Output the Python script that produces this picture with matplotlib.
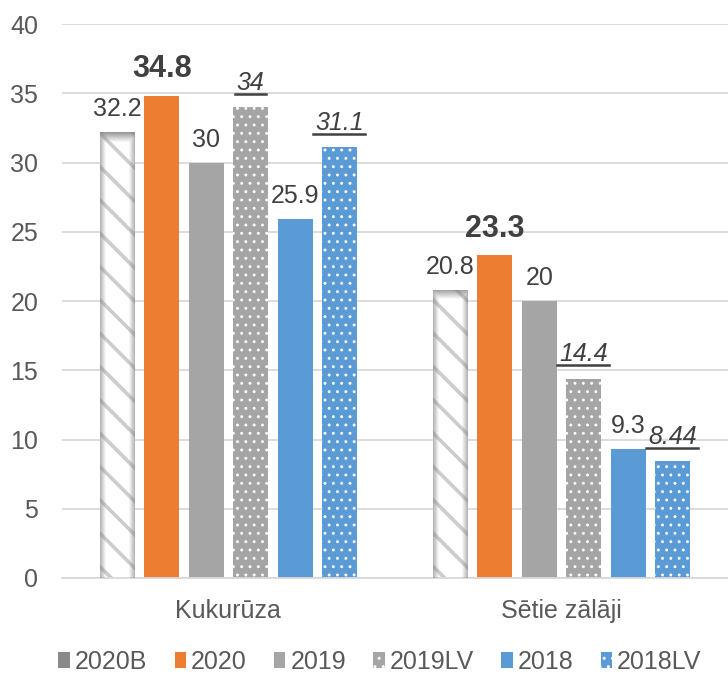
import numpy as np
import matplotlib
matplotlib.use("Agg")
import matplotlib.pyplot as plt
from matplotlib.lines import Line2D
from matplotlib.patches import Patch

categories = ["Kukurūza", "Sētie zālāji"]
series = ["2020B", "2020", "2019", "2019LV", "2018", "2018LV"]
v_2020b = [32.2, 20.8]
v_2020 = [34.8, 23.3]
v_2019 = [30, 20]
v_2019lv = [34, 14.4]
v_2018 = [25.9, 9.3]
v_2018lv = [31.1, 8.44]
labels_2019lv = ["34", "14.4"]
labels_2018lv = ["31.1", "8.44"]
yticks = [0, 5, 10, 15, 20, 25, 30, 35, 40]

values = [v_2020b, v_2020, v_2019, v_2019lv, v_2018, v_2018lv]
faces = ["white", "#ED7D31", "#A5A5A5", "#A5A5A5", "#5B9BD5", "#5B9BD5"]
hatches = ["\\", None, None, "..", None, ".."]
hatch_cols = ["#cccccc", None, None, "white", None, "white"]
styles = ["plain", "bold", "plain", "italic", "plain", "italic"]

plt.rcParams["font.family"] = ["Liberation Sans", "DejaVu Sans"]
txt = "#404040"
tick_col = "#595959"

fig = plt.figure(figsize=(7.28, 6.78), dpi=100)
ax = fig.add_axes([0.085, 0.1475, 0.915, 0.817])

x = np.arange(len(categories))
step = 0.1334
width = 0.105
ital_off = 12.5  # points

underline = []
for i, (name, vals) in enumerate(zip(series, values)):
    xs = x + (i - 2.5) * step
    if hatches[i]:
        lw = 2.6 if hatches[i] == "\\" else 0.9
        with plt.rc_context({"hatch.linewidth": lw}):
            bars = ax.bar(xs, vals, width, color=faces[i], edgecolor=hatch_cols[i],
                          hatch=hatches[i], linewidth=0, zorder=2, label=name)
        for b in bars:
            if hasattr(b, "set_hatch_linewidth"):
                b.set_hatch_linewidth(lw)
    else:
        bars = ax.bar(xs, vals, width, color=faces[i], linewidth=0, zorder=2, label=name)

    if name == "2020B":
        # shaded sides and dark top, like the bevel fill in the original
        for b, h in zip(bars, vals):
            x0 = b.get_x()
            nx, ny = 80, 400
            u = np.linspace(0, 1, nx)
            yy = np.linspace(h, 0, ny)
            ex = np.clip(1 - np.minimum(u, 1 - u) / 0.17, 0, 1) * 0.6
            et = np.clip(1 - (h - yy) / 0.7, 0, 1) * 0.8
            a = np.maximum(ex[None, :], et[:, None])
            img = np.zeros((ny, nx, 4))
            img[..., :3] = 0.5
            img[..., 3] = a
            im = ax.imshow(img, extent=(x0, x0 + width, 0, h), aspect="auto",
                           zorder=3, interpolation="bilinear")
            im.set_clip_path(b)

    for j, (xi, v) in enumerate(zip(xs, vals)):
        if styles[i] == "bold":
            ax.annotate(f"{v:g}", (xi, v), xytext=(0, 13.5), textcoords="offset points",
                        ha="center", va="baseline", fontsize=22, fontweight="bold", color=txt)
        elif styles[i] == "italic":
            lab = (labels_2019lv if name == "2019LV" else labels_2018lv)[j]
            t = ax.annotate(lab, (xi, v), xytext=(0, ital_off), textcoords="offset points",
                            ha="center", va="baseline", fontsize=18, fontstyle="italic", color=txt)
            underline.append((t, xi, v))
        else:
            ax.annotate(f"{v:g}", (xi, v), xytext=(0, 11.5), textcoords="offset points",
                        ha="center", va="baseline", fontsize=18, color=txt)

ax.set_xlim(-0.5, 1.5)
ax.set_ylim(0, 40)
ax.set_yticks(yticks)
ax.set_xticks(x)
ax.set_xticklabels(categories)
ax.yaxis.grid(True, color="#d9d9d9", linewidth=1.3, zorder=0)
ax.set_axisbelow(True)
for s in ["top", "right", "left"]:
    ax.spines[s].set_visible(False)
ax.spines["bottom"].set_color("#d9d9d9")
ax.spines["bottom"].set_linewidth(1.3)
ax.tick_params(axis="both", length=0, labelsize=18, labelcolor=tick_col)
ax.tick_params(axis="x", pad=15)
ax.tick_params(axis="y", pad=17)

handles = []
for name, fc, hc, ht in zip(series, faces, hatch_cols, hatches):
    if name == "2020B":
        handles.append(Patch(facecolor="#8a8a8a", edgecolor="none", label=name))
    elif ht:
        handles.append(Patch(facecolor=fc, edgecolor=hc, hatch=ht, linewidth=0, label=name))
    else:
        handles.append(Patch(facecolor=fc, edgecolor="none", label=name))
fig.legend(handles=handles, loc="center", bbox_to_anchor=(380 / 728, 1 - 662 / 678),
           ncol=6, frameon=False, fontsize=18, handlelength=0.45, handleheight=0.6,
           handletextpad=0.2, columnspacing=1.1, labelcolor=tick_col,
           borderaxespad=0, borderpad=0)

# underline the italic labels
fig.canvas.draw()
renderer = fig.canvas.get_renderer()
inv = fig.transFigure.inverted()
for t, xi, v in underline:
    bb = t.get_window_extent(renderer)
    ybase = ax.transData.transform((xi, v))[1] + ital_off * fig.dpi / 72
    y_line = ybase - 4
    p0 = inv.transform((bb.x0 - 2, y_line))
    p1 = inv.transform((bb.x1 + 1, y_line))
    fig.add_artist(Line2D([p0[0], p1[0]], [p0[1], p1[1]], color=txt, linewidth=1.8))

fig.savefig("out.png", dpi=100)
